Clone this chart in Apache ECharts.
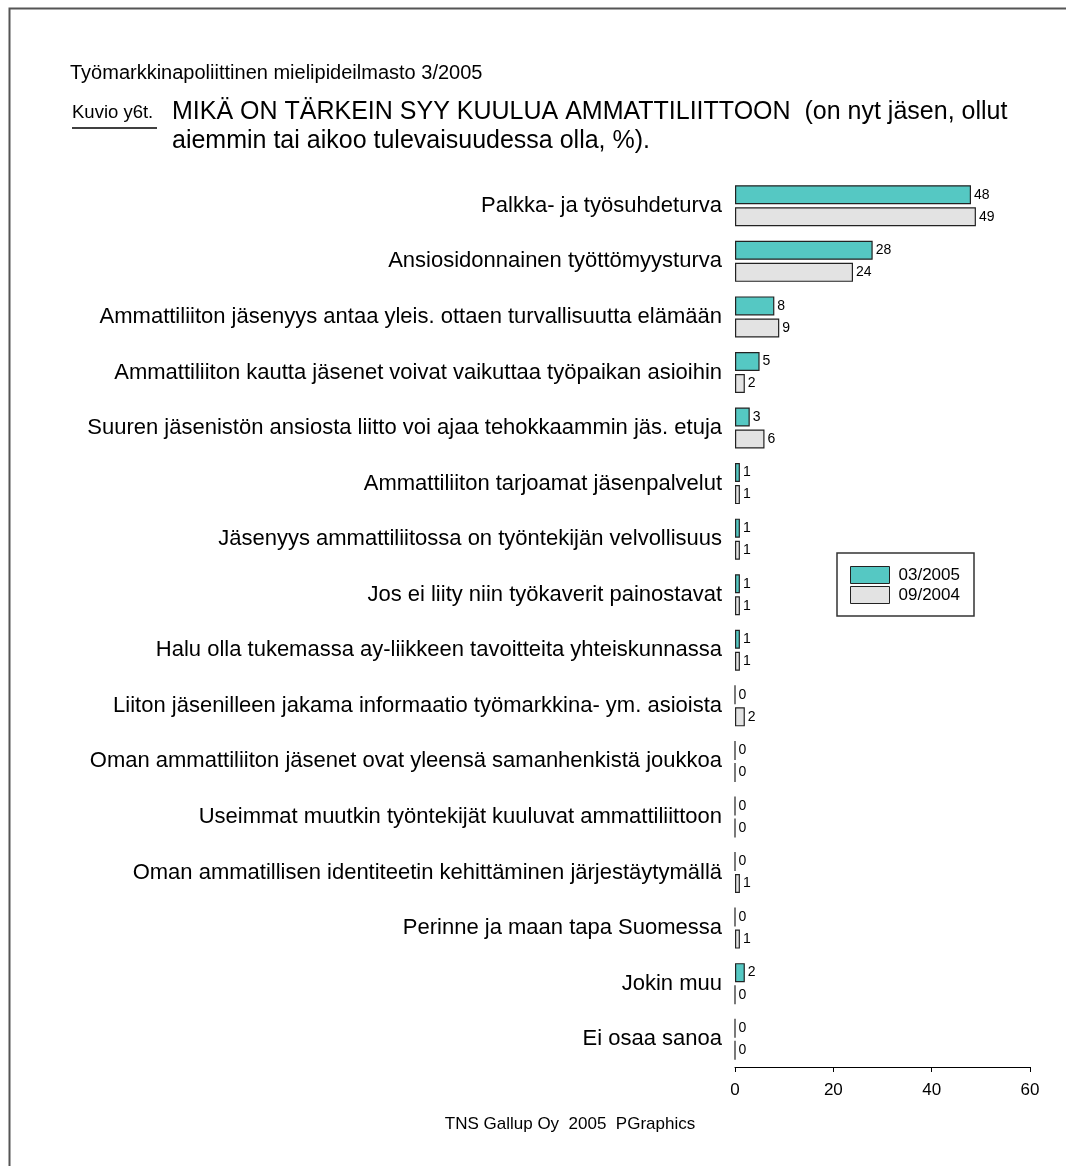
<!DOCTYPE html>
<html>
<head>
<meta charset="utf-8">
<script src="https://cdn.jsdelivr.net/npm/echarts@6/dist/echarts.min.js"></script>
<style>
html,body{margin:0;padding:0;background:#fff;}
#chart{width:1066px;height:1166px;}
</style>
</head>
<body>
<div id="chart"></div>
<script>
var categories = [
  'Palkka- ja työsuhdeturva',
  'Ansiosidonnainen työttömyysturva',
  'Ammattiliiton jäsenyys antaa yleis. ottaen turvallisuutta elämään',
  'Ammattiliiton kautta jäsenet voivat vaikuttaa työpaikan asioihin',
  'Suuren jäsenistön ansiosta liitto voi ajaa tehokkaammin jäs. etuja',
  'Ammattiliiton tarjoamat jäsenpalvelut',
  'Jäsenyys ammattiliitossa on työntekijän velvollisuus',
  'Jos ei liity niin työkaverit painostavat',
  'Halu olla tukemassa ay-liikkeen tavoitteita yhteiskunnassa',
  'Liiton jäsenilleen jakama informaatio työmarkkina- ym. asioista',
  'Oman ammattiliiton jäsenet ovat yleensä samanhenkistä joukkoa',
  'Useimmat muutkin työntekijät kuuluvat ammattiliittoon',
  'Oman ammatillisen identiteetin kehittäminen järjestäytymällä',
  'Perinne ja maan tapa Suomessa',
  'Jokin muu',
  'Ei osaa sanoa'
];
var seriesNames = ['03/2005', '09/2004'];
var values2005 = [48, 28, 8, 5, 3, 1, 1, 1, 1, 0, 0, 0, 0, 0, 2, 0];
var values2004 = [49, 24, 9, 2, 6, 1, 1, 1, 1, 2, 0, 0, 1, 1, 0, 0];
var xTicks = [0, 20, 40, 60];

var FONT = '"Liberation Sans", Arial, Helvetica, sans-serif';
var chart = echarts.init(document.getElementById('chart'), null, {renderer: 'canvas'});

var barLabel = {
  show: true, position: 'right', distance: 3,
  color: '#000', fontSize: 14, fontFamily: FONT,
  formatter: '{c}'
};

var option = {
  backgroundColor: '#ffffff',
  animation: false,
  textStyle: {fontFamily: FONT},
  grid: {left: 735, right: 36, top: 178, bottom: 99, containLabel: false},
  legend: {
    data: seriesNames,
    orient: 'vertical',
    left: 850, top: 566,
    itemWidth: 39, itemHeight: 17, itemGap: 2,
    icon: 'rect',
    padding: 0,
    itemStyle: {borderColor: '#222', borderWidth: 1},
    textStyle: {fontSize: 17, color: '#000', fontFamily: FONT, padding: [0, 0, 0, 4]}
  },
  xAxis: {
    type: 'value',
    min: xTicks[0], max: xTicks[xTicks.length - 1], interval: 20,
    axisLine: {show: true, lineStyle: {color: '#000', width: 1}},
    axisTick: {show: true, length: 5, lineStyle: {color: '#000'}},
    axisLabel: {color: '#000', fontSize: 17, fontFamily: FONT, margin: 15},
    splitLine: {show: false}
  },
  yAxis: {
    type: 'category',
    data: categories,
    inverse: true,
    axisLine: {show: false},
    axisTick: {show: false},
    axisLabel: {color: '#000', fontSize: 22, fontFamily: FONT, margin: 13}
  },
  series: [
    {
      name: seriesNames[0], type: 'bar', data: values2005,
      barWidth: 19, barGap: '16%',
      itemStyle: {color: '#55c8c3', borderColor: '#222', borderWidth: 1.2},
      label: barLabel
    },
    {
      name: seriesNames[1], type: 'bar', data: values2004,
      barWidth: 19, barGap: '16%',
      itemStyle: {color: '#e3e3e3', borderColor: '#222', borderWidth: 1.2},
      label: barLabel
    }
  ],
  graphic: [
    {type: 'rect', left: 7, top: 6, silent: true,
     shape: {x: 0, y: 0, width: 1200, height: 1300},
     style: {fill: 'none', stroke: '#555', lineWidth: 2}},
    {type: 'rect', silent: true, shape: {x: 837, y: 553, width: 137, height: 63},
     style: {fill: 'none', stroke: '#333', lineWidth: 1.5}},
    {type: 'text', x: 70, y: 73, silent: true,
     style: {text: 'Työmarkkinapoliittinen mielipideilmasto 3/2005', font: '20px ' + FONT, fill: '#000', textVerticalAlign: 'middle'}},
    {type: 'text', x: 72, y: 113, silent: true,
     style: {text: 'Kuvio y6t.', font: '18.5px ' + FONT, fill: '#000', textVerticalAlign: 'middle'}},
    {type: 'line', silent: true, shape: {x1: 72, y1: 128, x2: 157, y2: 128},
     style: {stroke: '#000', lineWidth: 1.5}},
    {type: 'text', x: 172, y: 112.5, silent: true,
     style: {text: 'MIKÄ ON TÄRKEIN SYY KUULUA AMMATTILIITTOON  (on nyt jäsen, ollut', font: '25px ' + FONT, fill: '#000', textVerticalAlign: 'middle'}},
    {type: 'text', x: 172, y: 141, silent: true,
     style: {text: 'aiemmin tai aikoo tulevaisuudessa olla, %).', font: '25px ' + FONT, fill: '#000', textVerticalAlign: 'middle'}},
    {type: 'text', x: 570, y: 1124, silent: true,
     style: {text: 'TNS Gallup Oy  2005  PGraphics', font: '17px ' + FONT, fill: '#000', textAlign: 'center', textVerticalAlign: 'middle'}}
  ]
};
chart.setOption(option);
</script>
</body>
</html>
